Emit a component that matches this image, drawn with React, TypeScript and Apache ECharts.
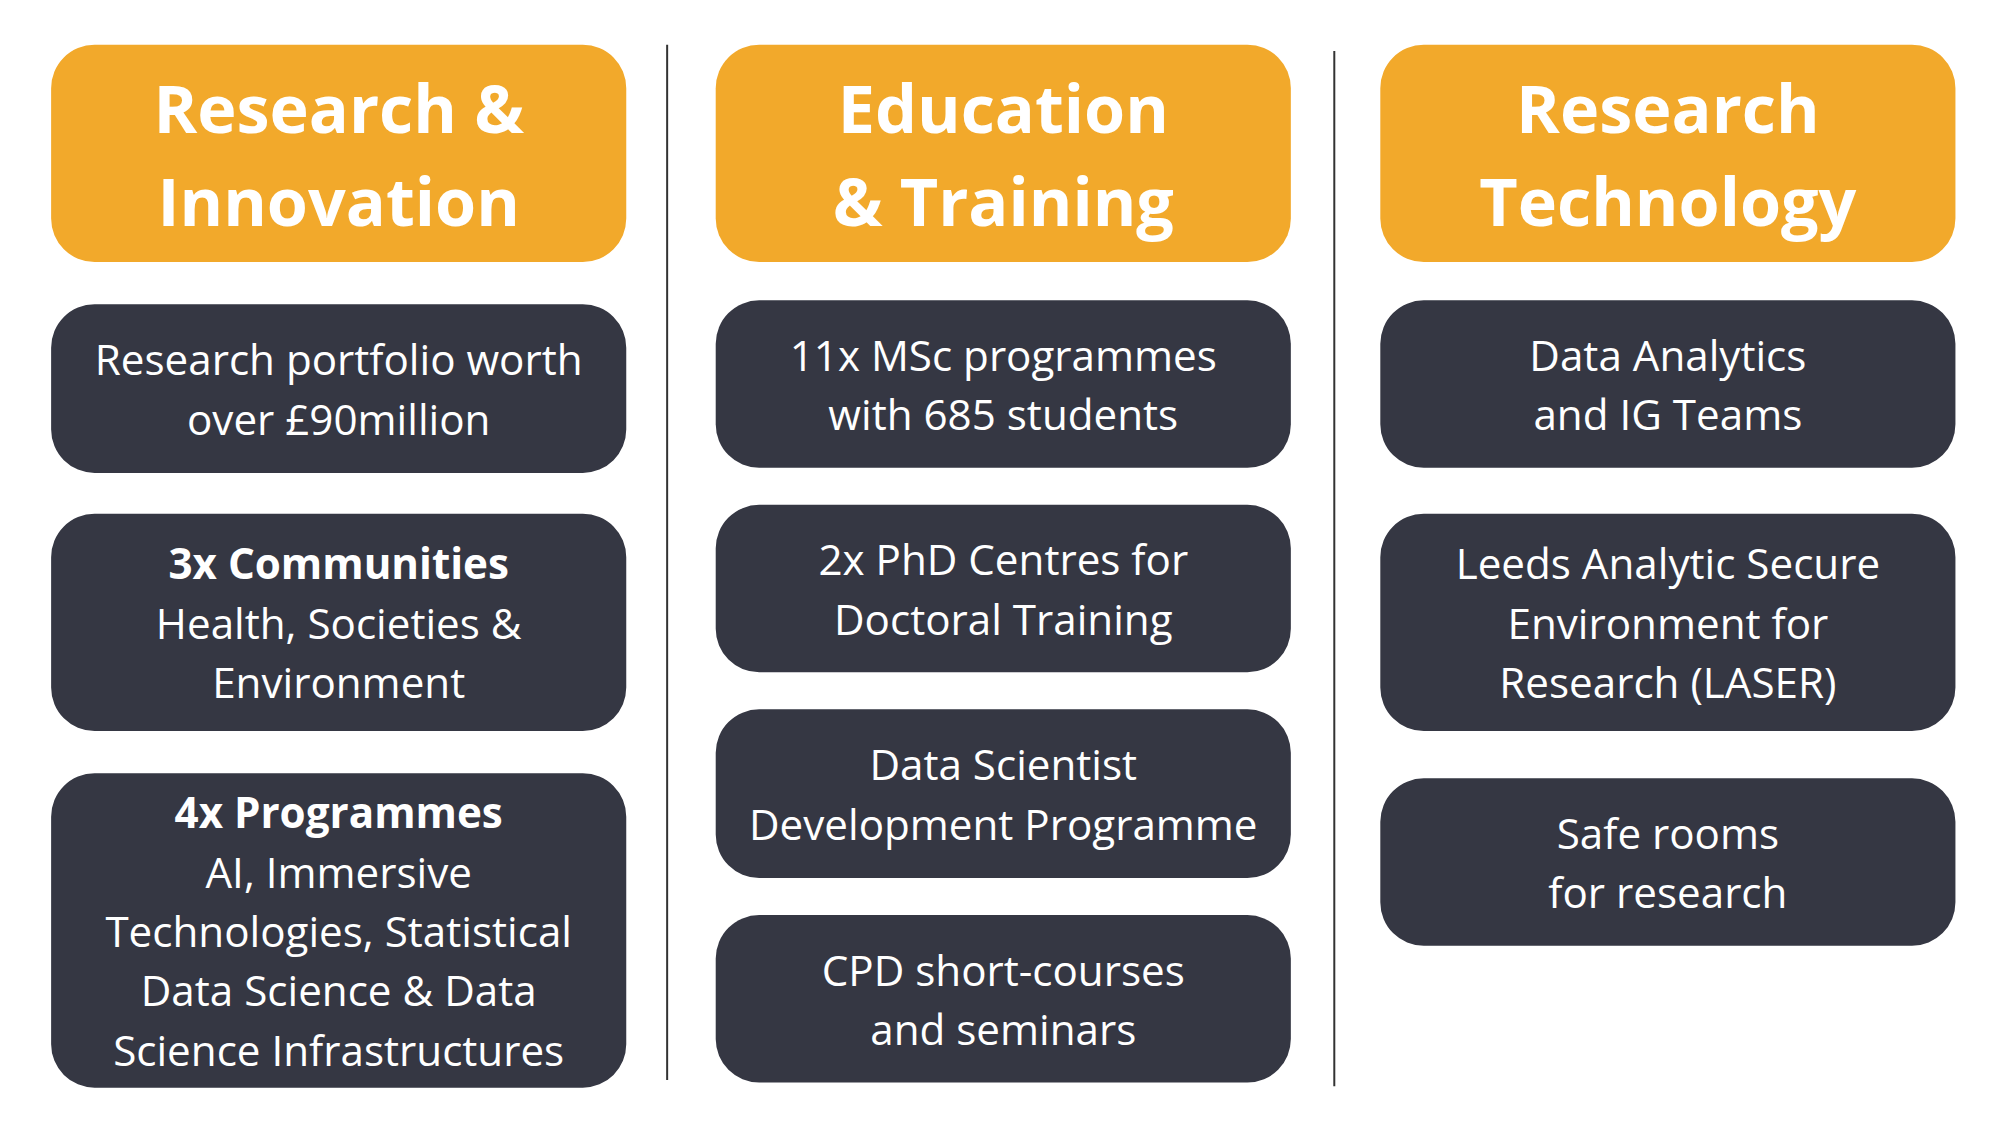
import { useEffect, useRef } from 'react';
import * as echarts from 'echarts';

// layout measured on a 1568-wide copy, scaled to the window
const S = 2004 / 1568;

const headers = ['Research &\nInnovation', 'Education\n& Training', 'Research\nTechnology'];
const columnX = [40, 560, 1080];
const dividerX = [522, 1044];

// each box: [top, bottom, bold first line, rest of lines]
const col1 = [
  [238, 370, '', 'Research portfolio worth\nover £90million'],
  [402, 572, '3x Communities', 'Health, Societies &\nEnvironment'],
  [605, 851, '4x Programmes', 'AI, Immersive\nTechnologies, Statistical\nData Science & Data\nScience Infrastructures'],
];
const col2 = [
  [235, 366, '', '11x MSc programmes\nwith 685 students'],
  [395, 526, '', '2x PhD Centres for\nDoctoral Training'],
  [555, 687, '', 'Data Scientist\nDevelopment Programme'],
  [716, 847, '', 'CPD short-courses\nand seminars'],
];
const col3 = [
  [235, 366, '', 'Data Analytics\nand IG Teams'],
  [402, 572, '', 'Leeds Analytic Secure\nEnvironment for\nResearch (LASER)'],
  [609, 740, '', 'Safe rooms\nfor research'],
];
const columns = [col1, col2, col3];

const ORANGE = '#F2A92B';
const DARK = '#353743';
const FONT = '"Open Sans", sans-serif';

export default function App() {
  const ref = useRef<HTMLDivElement>(null);

  useEffect(() => {
    document.body.style.margin = '0';
    const chart = echarts.init(ref.current!, undefined, { renderer: 'svg' });
    const W = 450 * S;
    const els: any[] = [];

    headers.forEach((h, i) => {
      const x = columnX[i] * S;
      els.push({
        type: 'rect',
        shape: { x, y: 35 * S, width: W, height: 170 * S, r: 34 * S },
        style: { fill: ORANGE },
      });
      els.push({
        type: 'text',
        x: x + W / 2,
        y: 120 * S,
        style: {
          text: h,
          fill: '#fff',
          font: `bold ${52 * S}px ${FONT}`,
          lineHeight: 73 * S,
          align: 'center',
          verticalAlign: 'middle',
        },
      });
    });

    dividerX.forEach((dx, i) => {
      els.push({
        type: 'line',
        shape: { x1: dx * S, y1: (i ? 40 : 35) * S, x2: dx * S, y2: (i ? 850 : 845) * S },
        style: { stroke: '#333', lineWidth: 2 },
      });
    });

    columns.forEach((col, i) => {
      const x = columnX[i] * S;
      col.forEach(([top, bottom, bold, rest]: any) => {
        els.push({
          type: 'rect',
          shape: { x, y: top * S, width: W, height: (bottom - top) * S, r: 34 * S },
          style: { fill: DARK },
        });
        const lines = (rest as string).split('\n').map((l) => `{n|${l}}`);
        if (bold) lines.unshift(`{b|${bold}}`);
        els.push({
          type: 'text',
          x: x + W / 2,
          y: ((top + bottom) / 2) * S,
          style: {
            text: lines.join('\n'),
            align: 'center',
            verticalAlign: 'middle',
            rich: {
              n: { fill: '#fff', font: `${33 * S}px ${FONT}`, lineHeight: 46.5 * S, align: 'center' },
              b: { fill: '#fff', font: `bold ${33 * S}px ${FONT}`, lineHeight: 46.5 * S, align: 'center' },
            },
          },
        });
      });
    });

    chart.setOption({ animation: false, backgroundColor: '#fff', graphic: els });
    return () => chart.dispose();
  }, []);

  return <div ref={ref} style={{ width: 2004, height: 1133 }} />;
}
